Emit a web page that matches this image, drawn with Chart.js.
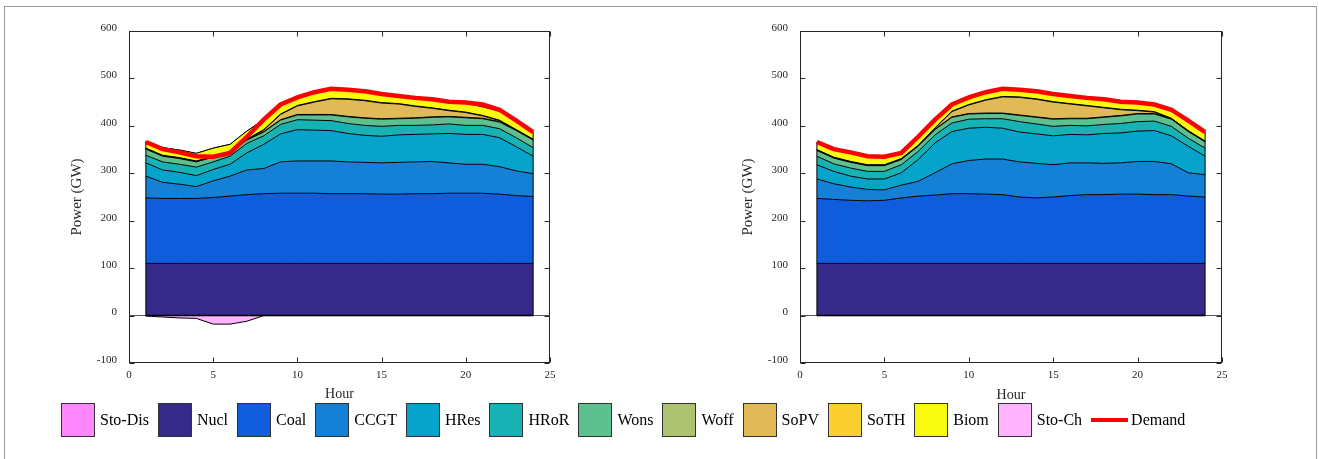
<!DOCTYPE html>
<html>
<head>
<meta charset="utf-8">
<script src="https://cdn.jsdelivr.net/npm/chart.js@4.4.1/dist/chart.umd.min.js"></script>
<style>
  body { margin: 0; background: #fff; width: 1319px; height: 459px; overflow: hidden; position: relative;
         font-family: "Liberation Serif", "Times New Roman", serif; }
  #frame { position: absolute; left: 4px; top: 6px; width: 1311px; height: 470px; border: 1px solid #9a9a9a; }
  canvas { position: absolute; top: 0; }
  #left { left: 0; }
  #right { left: 671px; }
  #legend { position: absolute; left: 61px; top: 403px; display: flex; align-items: center; z-index: 2; }
  .item { display: flex; align-items: center; margin-right: 9px; font-size: 16px; color: #000; }
  .box { width: 34px; height: 34px; border: 1px solid #333; margin-right: 5px; box-sizing: border-box; }
  .line { width: 37px; height: 4px; background: #ff0000; margin-right: 3px; }
</style>
</head>
<body>
<div id="frame"></div>
<canvas id="left" width="600" height="410"></canvas>
<canvas id="right" width="600" height="411"></canvas>
<div id="legend"></div>
<script>
const hours = [1, 2, 3, 4, 5, 6, 7, 8, 9, 10, 11, 12, 13, 14, 15, 16, 17, 18, 19, 20, 21, 22, 23, 24];
const demand = [366, 351, 344, 336, 335, 343, 377, 413, 445, 460, 471, 478, 476, 473, 467, 463, 459, 456, 451, 449, 445, 434, 411, 387];

// left case
const nuclA = [110, 110, 110, 110, 110, 110, 110, 110, 110, 110, 110, 110, 110, 110, 110, 110, 110, 110, 110, 110, 110, 110, 110, 110];
const coalA = [138, 137, 137, 137, 139, 142, 145, 147, 148, 148, 148, 147, 147, 147, 146, 146, 147, 147, 148, 148, 148, 146, 143, 141];
const ccgtA = [46, 34, 30, 25, 35, 42, 52, 53, 66, 68, 68, 69, 67, 66, 66, 67, 67, 68, 64, 61, 61, 58, 52, 48];
const hresA = [28, 26, 25, 23, 24, 25, 36, 51, 59, 66, 65, 64, 60, 57, 56, 58, 58, 58, 62, 63, 63, 61, 51, 37];
const hrorA = [16, 17, 17, 18, 16, 17, 20, 18, 20, 21, 21, 21, 21, 21, 21, 20, 19, 19, 20, 19, 19, 19, 19, 18];
const wonsA = [13, 12, 12, 11, 10, 8, 7, 8, 9, 10, 11, 12, 14, 15, 15, 14, 15, 16, 15, 16, 14, 14, 15, 16];
const woffA = [1, 1, 1, 1, 1, 1, 1, 1, 1, 1, 1, 1, 1, 1, 1, 1, 1, 1, 1, 1, 1, 1, 1, 1];
const sopvA = [0, 0, 0, 0, 0, 0, 0, 3, 11, 18, 26, 33, 36, 36, 33, 30, 24, 18, 12, 10, 5, 2, 0, 0];
const sothA = [1, 1, 1, 1, 1, 1, 1, 1, 1, 1, 1, 1, 1, 1, 1, 1, 1, 1, 1, 1, 1, 1, 1, 1];
const biomA = [14, 16, 16, 16, 17, 15, 17, 21, 20, 17, 20, 20, 19, 19, 18, 16, 17, 18, 18, 19, 18, 19, 19, 15];
const stoDisA = [0, 0, 0, 0, 0, 0, 0, 0, 0, 0, 0, 0, 0, 0, 0, 0, 0, 0, 0, 1, 5, 3, 0, 0];
const stoChA = [-1, -3, -5, -6, -18, -18, -12, 0, 0, 0, 0, 0, 0, 0, 0, 0, 0, 0, 0, 0, 0, 0, 0, 0];

// right case
const nuclB = [110, 110, 110, 110, 110, 110, 110, 110, 110, 110, 110, 110, 110, 110, 110, 110, 110, 110, 110, 110, 110, 110, 110, 110];
const coalB = [137, 135, 133, 132, 133, 138, 142, 144, 147, 147, 146, 145, 140, 138, 140, 143, 145, 145, 146, 146, 145, 145, 142, 140];
const ccgtB = [41, 33, 28, 24, 22, 27, 31, 47, 63, 70, 74, 75, 74, 73, 68, 69, 67, 66, 66, 69, 70, 65, 49, 47];
const hresB = [30, 26, 23, 22, 23, 26, 46, 63, 68, 68, 67, 65, 63, 62, 61, 60, 59, 63, 63, 64, 65, 59, 56, 39];
const hrorB = [18, 16, 17, 16, 16, 17, 17, 17, 18, 19, 18, 20, 22, 21, 20, 19, 19, 19, 20, 20, 20, 20, 17, 17];
const wonsB = [12, 12, 12, 12, 12, 11, 11, 11, 12, 11, 11, 11, 13, 14, 15, 14, 15, 15, 16, 16, 15, 15, 14, 13];
const woffB = [1, 1, 1, 1, 1, 1, 1, 1, 1, 1, 1, 1, 1, 1, 1, 1, 1, 1, 1, 1, 1, 1, 1, 1];
const sopvB = [0, 0, 0, 0, 0, 0, 0, 2, 11, 18, 27, 34, 37, 37, 35, 30, 26, 19, 12, 6, 3, 0, 0, 0];
const sothB = [1, 1, 1, 1, 1, 1, 1, 1, 1, 1, 1, 1, 1, 1, 1, 1, 1, 1, 1, 1, 1, 1, 1, 1];
const biomB = [16, 17, 19, 18, 17, 12, 18, 17, 14, 15, 16, 16, 15, 16, 16, 16, 16, 17, 16, 16, 15, 18, 21, 19];
const stoDisB = [0, 0, 0, 0, 0, 0, 0, 0, 0, 0, 0, 0, 0, 0, 0, 0, 0, 0, 0, 0, 0, 0, 0, 0];
const stoChB = [0, 0, 0, 0, 0, 0, 0, 0, 0, 0, 0, 0, 0, 0, 0, 0, 0, 0, 0, 0, 0, 0, 0, 0];

const yTicks = [-100, 0, 100, 200, 300, 400, 500, 600];
const xTicks = [0, 5, 10, 15, 20, 25];

const colors = {
  "Sto-Dis": "#ff88ff", "Nucl": "#352a87", "Coal": "#0f5cdd", "CCGT": "#1481d6", "HRes": "#06a4ca",
  "HRoR": "#16b2b4", "Wons": "#5cc08f", "Woff": "#acc270", "SoPV": "#e0ba56", "SoTH": "#fccf30",
  "Biom": "#f9fb0e", "Sto-Ch": "#ffb4ff",
};
const legendOrder = ["Sto-Dis", "Nucl", "Coal", "CCGT", "HRes", "HRoR", "Wons", "Woff", "SoPV", "SoTH", "Biom", "Sto-Ch"];

const serif = '"Liberation Serif", "Times New Roman", serif';
const axisColor = "#262626";

const pts = (vals) => vals.map((v, i) => ({ x: hours[i], y: v }));

// black vertical edges and baseline of the stacked areas, as matlab's area() draws them
const edgePlugin = {
  id: "areaEdges",
  beforeDatasetDraw(chart, args) {
    const ds = chart.data.datasets;
    if (ds[args.index].label !== "Demand") return;
    const { ctx } = chart;
    const x = chart.scales.x, y = chart.scales.y;
    ctx.save();
    ctx.strokeStyle = "#000";
    ctx.lineWidth = 1;
    for (const i of [0, hours.length - 1]) {
      let top = 0, bottom = 0;
      for (const d of ds) {
        if (d.stack === "ch") bottom = d.data[i].y;
        else if (!d.stack) top += d.data[i].y;
      }
      const px = x.getPixelForValue(hours[i]);
      ctx.beginPath();
      ctx.moveTo(px, y.getPixelForValue(bottom));
      ctx.lineTo(px, y.getPixelForValue(top));
      ctx.stroke();
    }
    ctx.lineWidth = 1.5;
    ctx.beginPath();
    ctx.moveTo(x.getPixelForValue(hours[0]), y.getPixelForValue(0));
    ctx.lineTo(x.getPixelForValue(hours[hours.length - 1]), y.getPixelForValue(0));
    ctx.stroke();
    ctx.restore();
  },
};

// box around the axes with inward ticks on all four sides
const boxPlugin = {
  id: "matlabBox",
  afterDraw(chart) {
    const { ctx, chartArea: a } = chart;
    const x = chart.scales.x, y = chart.scales.y;
    const L = Math.round(a.left) + 0.5, R = Math.round(a.right) - 0.5;
    const T = Math.round(a.top) + 0.5, B = Math.round(a.bottom) - 0.5;
    ctx.save();
    ctx.strokeStyle = axisColor;
    ctx.lineWidth = 1;
    ctx.strokeRect(L, T, R - L, B - T);
    ctx.beginPath();
    for (const t of x.ticks) {
      const px = Math.round(x.getPixelForValue(t.value)) + 0.5;
      ctx.moveTo(px, B); ctx.lineTo(px, B - 5);
      ctx.moveTo(px, T); ctx.lineTo(px, T + 5);
    }
    for (const t of y.ticks) {
      const py = Math.round(y.getPixelForValue(t.value)) + 0.5;
      ctx.moveTo(L, py); ctx.lineTo(L + 5, py);
      ctx.moveTo(R, py); ctx.lineTo(R - 5, py);
    }
    ctx.stroke();
    ctx.restore();
  },
};

function makeChart(id, s, padRight, canvasH) {
  const layer = (label, data, fill) => ({
    label, data: pts(data), fill,
    backgroundColor: colors[label], borderColor: "#000", borderWidth: 1,
    pointRadius: 0, tension: 0,
  });
  const datasets = [
    layer("Nucl", s.nucl, "origin"),
    layer("Coal", s.coal, "-1"),
    layer("CCGT", s.ccgt, "-1"),
    layer("HRes", s.hres, "-1"),
    layer("HRoR", s.hror, "-1"),
    layer("Wons", s.wons, "-1"),
    layer("Woff", s.woff, "-1"),
    layer("SoPV", s.sopv, "-1"),
    layer("SoTH", s.soth, "-1"),
    layer("Biom", s.biom, "-1"),
    layer("Sto-Dis", s.stoDis, "-1"),
    { ...layer("Sto-Ch", s.stoCh, "origin"), stack: "ch" },
    {
      label: "Demand", data: pts(demand), stack: "dem", order: -1, fill: false,
      borderColor: "#ff0000", borderWidth: 4.5, pointRadius: 0, tension: 0,
    },
  ];

  return new Chart(document.getElementById(id), {
    type: "line",
    data: { datasets },
    plugins: [edgePlugin, boxPlugin],
    options: {
      responsive: false,
      animation: false,
      layout: { padding: { left: 0, top: 31, right: padRight, bottom: 0 } },
      plugins: { legend: { display: false }, tooltip: { enabled: false } },
      scales: {
        x: {
          type: "linear", min: 0, max: 25,
          afterBuildTicks: (sc) => { sc.ticks = xTicks.map((v) => ({ value: v })); },
          afterFit: (sc) => { sc.height = canvasH - 363; },
          ticks: { padding: -2, color: axisColor, font: { family: serif, size: 11 } },
          grid: { display: false },
          border: { display: false },
          title: { display: true, text: "Hour", color: axisColor, font: { family: serif, size: 14 }, padding: { top: 0, bottom: 7 } },
        },
        y: {
          stacked: true, min: -100, max: 600,
          afterBuildTicks: (sc) => { sc.ticks = yTicks.map((v) => ({ value: v })); },
          afterFit: (sc) => { sc.width = 129; },
          ticks: { padding: 12, labelOffset: -3, color: axisColor, font: { family: serif, size: 11 } },
          grid: { drawTicks: false, color: (c) => (c.tick && c.tick.value === 0 ? "#555" : "rgba(0,0,0,0)") },
          border: { display: false },
          title: { display: true, text: "Power (GW)", color: axisColor, font: { family: serif, size: 15 }, padding: { top: 68, bottom: 0 } },
        },
      },
    },
  });
}

makeChart("left", {
  nucl: nuclA, coal: coalA, ccgt: ccgtA, hres: hresA, hror: hrorA, wons: wonsA, woff: woffA,
  sopv: sopvA, soth: sothA, biom: biomA, stoDis: stoDisA, stoCh: stoChA,
}, 50, 410);

makeChart("right", {
  nucl: nuclB, coal: coalB, ccgt: ccgtB, hres: hresB, hror: hrorB, wons: wonsB, woff: woffB,
  sopv: sopvB, soth: sothB, biom: biomB, stoDis: stoDisB, stoCh: stoChB,
}, 49, 411);

const legendEl = document.getElementById("legend");
for (const name of legendOrder) {
  const item = document.createElement("div");
  item.className = "item";
  item.innerHTML = `<div class="box" style="background:${colors[name]}"></div><span>${name}</span>`;
  legendEl.appendChild(item);
}
const dem = document.createElement("div");
dem.className = "item";
dem.innerHTML = `<div class="line"></div><span>Demand</span>`;
legendEl.appendChild(dem);
</script>
</body>
</html>
